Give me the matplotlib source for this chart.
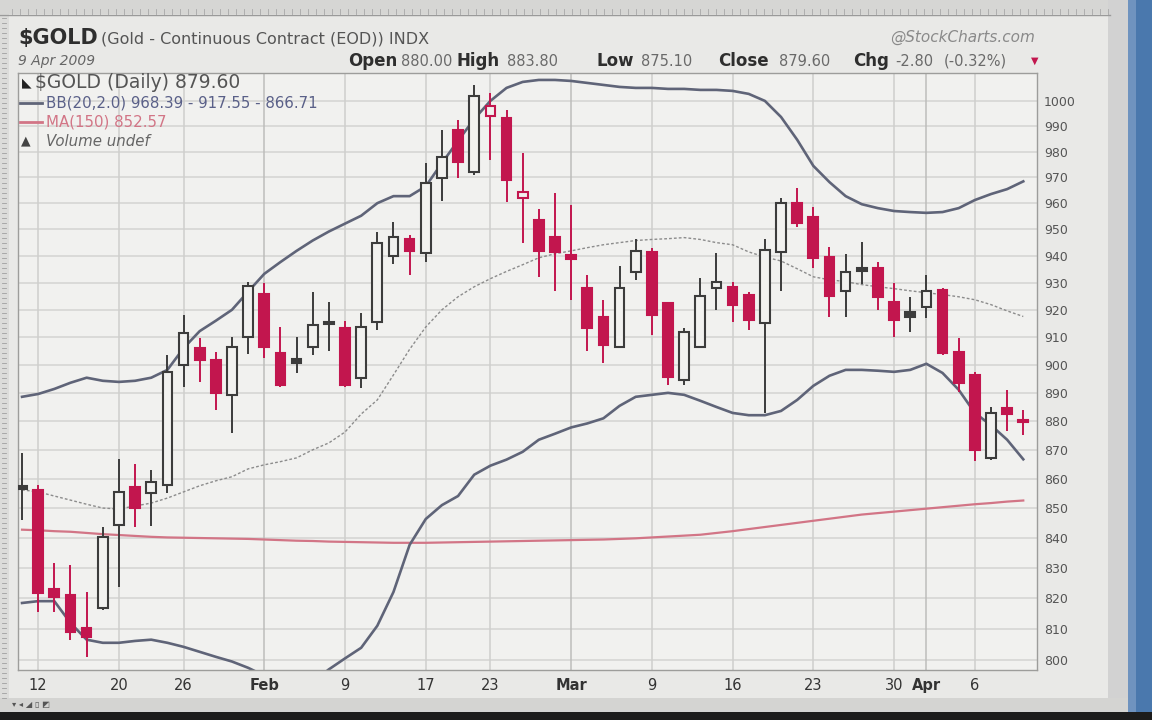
import numpy as np
import pandas as pd
import matplotlib
matplotlib.use('Agg')
import matplotlib.pyplot as plt
from matplotlib.patches import Rectangle
from matplotlib.lines import Line2D
from matplotlib.ticker import FixedLocator, NullLocator, FixedFormatter

plt.rcParams['font.family'] = ['DejaVu Sans']

# trading days on the chart: 9 Jan - 9 Apr 2009 (MLK day and Presidents day closed)
dates = pd.bdate_range('2009-01-09', '2009-04-09')
dates = dates[~dates.isin(pd.to_datetime(['2009-01-19', '2009-02-16']))]

opens = [857.0, 856.3, 823.0, 821.0, 810.3, 816.8, 844.4, 857.3, 855.2, 858.0,
         900.0, 906.0, 901.8, 889.3, 910.0, 926.0, 904.3, 902.0, 906.4, 915.5,
         913.5, 895.4, 915.5, 940.0, 946.5, 941.0, 969.6, 988.5, 972.0, 994.0,
         993.2, 962.0, 953.6, 947.2, 940.5, 928.1, 917.4, 906.4, 933.9, 941.5,
         922.5, 894.6, 906.4, 928.1, 928.5, 925.6, 915.2, 941.5, 960.0, 954.8,
         939.6, 926.8, 935.3, 935.4, 922.7, 919.2, 921.1, 927.4, 904.6, 896.4,
         867.3, 884.5, 880.0]
highs = [869.0, 858.0, 831.7, 831.0, 822.0, 843.5, 866.7, 865.0, 863.0, 903.6,
         918.0, 909.6, 904.5, 910.0, 930.4, 930.0, 913.7, 910.0, 926.5, 923.0,
         916.0, 918.7, 949.0, 953.0, 947.7, 975.5, 988.5, 992.4, 1006.4, 1003.0,
         996.4, 979.6, 957.6, 964.0, 959.3, 933.0, 923.6, 936.4, 946.5, 943.0,
         923.0, 913.3, 931.8, 941.0, 930.3, 926.7, 946.5, 962.0, 965.8, 958.4,
         943.4, 940.8, 945.2, 937.7, 930.0, 924.6, 933.0, 928.0, 909.6, 897.5,
         885.0, 891.0, 883.8]
lows = [846.0, 815.5, 815.5, 806.5, 801.0, 816.0, 823.6, 843.5, 844.0, 855.0,
        892.0, 894.0, 884.0, 876.0, 904.0, 902.6, 892.0, 897.0, 903.6, 905.0,
        892.0, 891.8, 912.6, 937.0, 932.8, 937.8, 961.0, 969.6, 971.0, 976.7,
        960.4, 944.7, 932.0, 926.8, 923.6, 905.0, 900.7, 906.0, 931.0, 910.7,
        892.8, 892.8, 906.0, 920.0, 915.5, 912.6, 882.8, 926.8, 950.8, 935.6,
        917.4, 917.4, 929.6, 920.0, 910.0, 911.8, 917.0, 903.6, 890.4, 866.0,
        866.6, 876.5, 875.1]
closes = [856.5, 821.7, 820.5, 809.0, 807.4, 840.3, 855.5, 850.0, 859.0, 897.5,
          911.4, 901.8, 890.0, 906.4, 928.6, 906.4, 892.8, 900.7, 914.4, 914.8,
          892.8, 913.7, 944.9, 947.0, 942.0, 967.6, 978.0, 975.9, 1002.0, 998.0,
          968.9, 964.4, 942.0, 941.5, 939.0, 913.5, 907.0, 928.1, 942.0, 918.0,
          895.7, 911.8, 925.0, 930.3, 921.8, 916.3, 942.3, 960.0, 952.6, 939.3,
          925.0, 933.9, 934.4, 924.6, 916.3, 917.5, 926.8, 904.3, 893.5, 870.0,
          883.0, 882.4, 879.6]
prior_close = 853.0

bb_upper = [888.6, 889.6, 891.4, 893.6, 895.4, 894.3, 893.9, 894.3, 895.4, 898.2,
            906.0, 912.2, 916.0, 920.0, 926.7, 933.3, 937.7, 941.9, 945.8, 949.2,
            952.2, 955.2, 960.0, 962.7, 962.7, 966.5, 975.5, 984.2, 992.8, 1000.0,
            1005.2, 1007.6, 1008.4, 1008.4, 1008.0, 1007.2, 1006.4, 1005.6, 1005.2, 1005.2,
            1004.8, 1004.8, 1004.4, 1004.4, 1004.0, 1002.8, 1000.0, 993.6, 984.6, 974.4,
            968.1, 962.7, 959.6, 958.1, 957.0, 956.6, 956.3, 956.6, 958.1, 961.2,
            963.5, 965.4, 968.39]
bb_mid = [856.2, 855.5, 854.1, 852.7, 851.3, 850.0, 849.7, 850.7, 851.7, 853.4,
          855.5, 857.6, 859.3, 860.7, 863.4, 864.8, 865.9, 867.2, 870.0, 872.4,
          876.2, 882.5, 887.5, 896.4, 905.6, 913.7, 920.0, 924.8, 928.5, 931.5,
          934.2, 936.7, 939.3, 940.8, 941.9, 943.1, 944.2, 945.0, 945.8, 946.2,
          946.5, 946.9, 946.2, 945.0, 944.2, 941.5, 939.6, 938.1, 935.2, 932.2,
          931.1, 930.4, 929.3, 928.5, 927.8, 927.0, 926.3, 925.6, 924.8, 923.7,
          921.9, 919.6, 917.55]
bb_lower = [818.4, 819.0, 819.0, 811.9, 806.5, 805.5, 805.5, 806.1, 806.5, 805.5,
            804.2, 802.6, 801.0, 799.5, 797.5, 795.0, 793.0, 792.0, 793.0, 797.0,
            800.5, 803.9, 811.0, 822.0, 837.6, 846.3, 851.0, 854.1, 861.4, 864.5,
            866.6, 869.3, 873.5, 875.6, 877.8, 879.2, 881.0, 885.4, 888.6, 889.3,
            890.0, 889.3, 887.2, 885.0, 882.9, 882.1, 882.1, 883.6, 887.5, 892.5,
            896.1, 898.2, 898.2, 897.9, 897.5, 898.2, 900.4, 897.1, 891.1, 882.9,
            878.6, 873.5, 866.71]
ma150 = [842.7, 842.5, 842.2, 842.0, 841.6, 841.2, 840.9, 840.6, 840.3, 840.1,
         840.0, 839.9, 839.8, 839.7, 839.6, 839.4, 839.2, 839.0, 838.9, 838.7,
         838.6, 838.5, 838.4, 838.3, 838.3, 838.3, 838.4, 838.5, 838.6, 838.7,
         838.8, 838.9, 839.0, 839.1, 839.2, 839.3, 839.4, 839.6, 839.8, 840.1,
         840.4, 840.7, 841.0, 841.6, 842.2, 842.9, 843.6, 844.3, 845.0, 845.7,
         846.4, 847.1, 847.8, 848.3, 848.8, 849.3, 849.8, 850.3, 850.8, 851.3,
         851.7, 852.2, 852.57]

tick_dates = ['2009-01-12', '2009-01-20', '2009-01-26', '2009-02-02', '2009-02-09',
              '2009-02-17', '2009-02-23', '2009-03-02', '2009-03-09', '2009-03-16',
              '2009-03-23', '2009-03-30', '2009-04-01', '2009-04-06']
tick_labels = ['12', '20', '26', 'Feb', '9', '17', '23', 'Mar', '9', '16', '23', '30', 'Apr', '6']
month_labels = ['Feb', 'Mar', 'Apr']
price_ticks = list(range(800, 1001, 10))

W, H = 1152, 720
RED = '#c2164e'
BLK = '#3c3c3c'
PLOT_BG = '#f1f1ef'


def px(x, y):
    return x / W, 1 - y / H


def add_box(fig, x0, y0, x1, y1, color, z=0):
    fig.add_artist(Rectangle(px(x0, y1), (x1 - x0) / W, (y1 - y0) / H,
                             transform=fig.transFigure, facecolor=color,
                             edgecolor='none', zorder=z))


fig = plt.figure(figsize=(W / 100, H / 100), dpi=100, facecolor='#e9e9e7')

# screen furniture around the chart
add_box(fig, 0, 0, W, 14, '#d6d6d4')
for xx in range(12, 1110, 8):
    fig.add_artist(Line2D([xx / W] * 2, [1 - 14 / H, 1 - (9 if xx % 40 else 4) / H],
                          transform=fig.transFigure, color='#a8a8a8', lw=0.6))
fig.add_artist(Line2D([0, 1110 / W], [1 - 15 / H] * 2, transform=fig.transFigure,
                      color='#9a9a9a', lw=1))
add_box(fig, 0, 14, 9, 700, '#dcdcda')
for yy in range(18, 700, 5):
    fig.add_artist(Line2D([2 / W, 6 / W], [1 - yy / H] * 2, transform=fig.transFigure,
                          color='#a0a0a0', lw=0.6))
add_box(fig, 1108, 0, 1128, 712, '#d2d2d2')
add_box(fig, 1128, 0, W, 712, '#4a78ad')
add_box(fig, 1128, 0, 1136, 712, '#6f93bf')
add_box(fig, 0, 698, 1128, 712, '#d4d4d2')
add_box(fig, 0, 712, W, H, '#1c1c1c')
fig.text(*px(12, 705), '▾ ◂ ◢ ▯ ◩', fontsize=6, color='#555', va='center')

# header
fig.text(*px(18, 38), '$GOLD', fontsize=15, fontweight='bold', color='#2e2e2e', va='center')
fig.text(*px(101, 39), '(Gold - Continuous Contract (EOD)) INDX', fontsize=11.5,
         color='#555555', va='center')
fig.text(*px(1035, 37), '@StockCharts.com', fontsize=11, color='#8a8a8a', va='center',
         ha='right', style='italic')
fig.text(*px(18, 61), '9 Apr 2009', fontsize=10, color='#666666', va='center', style='italic')
header = [('Open', 348, True), ('880.00', 401, False), ('High', 456, True),
          ('883.80', 507, False), ('Low', 596, True), ('875.10', 641, False),
          ('Close', 718, True), ('879.60', 779, False), ('Chg', 853, True),
          ('-2.80', 895, False), ('(-0.32%)', 944, False)]
for txt, xx, bold in header:
    fig.text(*px(xx, 61), txt, fontsize=12 if bold else 10.5,
             fontweight='bold' if bold else 'normal',
             color='#2e2e2e' if bold else '#6a6a6a', va='center')
fig.text(*px(1031, 61), '▼', fontsize=7, color=RED, va='center')

# price panel
ax = fig.add_axes([18 / W, 1 - 670 / H, (1037 - 18) / W, (670 - 73) / H])
ax.set_facecolor(PLOT_BG)
ax.set_yscale('log')
ax.set_ylim(796.8, 1011.2)
ax.set_xlim(-0.25, 62.85)

x = np.arange(len(dates))
tick_pos = [dates.get_loc(pd.Timestamp(d)) for d in tick_dates]

for p in price_ticks:
    ax.axhline(p, color='#d3d3d1', lw=1.1, zorder=0)
for t, lab in zip(tick_pos, tick_labels):
    ax.axvline(t, color='#bdbdbb' if lab in month_labels else '#cfcfcd', lw=1.1, zorder=0)

ax.plot(x, ma150, color='#d27586', lw=1.6, zorder=2)
ax.plot(x, bb_mid, color='#8c8c8c', lw=1.0, ls=(0, (2, 1.5)), zorder=2)
ax.plot(x, bb_upper, color='#5f6478', lw=1.9, zorder=2)
ax.plot(x, bb_lower, color='#5f6478', lw=1.9, zorder=2)

prev = [prior_close] + closes[:-1]
for i in range(len(x)):
    o, h, l, c = opens[i], highs[i], lows[i], closes[i]
    col = RED if c < prev[i] else BLK
    ax.vlines(x[i], l, h, color=col, lw=1.4, zorder=3)
    lo, hi = min(o, c), max(o, c)
    hgt = max(hi - lo, 0.9)
    face = col if c < o else PLOT_BG
    ax.bar(x[i], hgt, bottom=lo, width=0.6, color=face, edgecolor=col, lw=1.5, zorder=4)

ax.yaxis.set_major_locator(FixedLocator(price_ticks))
ax.yaxis.set_minor_locator(NullLocator())
ax.yaxis.set_major_formatter(FixedFormatter([str(p) for p in price_ticks]))
ax.yaxis.tick_right()
ax.tick_params(axis='y', length=0, pad=5, labelsize=9, labelcolor='#555555')
ax.set_xticks(tick_pos)
ax.set_xticklabels(tick_labels)
for lab in ax.get_xticklabels():
    if lab.get_text() in month_labels:
        lab.set_fontweight('bold')
        lab.set_fontsize(11)
ax.tick_params(axis='x', length=0, pad=6, labelsize=10.5, labelcolor='#333333')
for s in ax.spines.values():
    s.set_color('#9d9d9b')
    s.set_linewidth(1)

# legend block inside the panel
fig.text(*px(22, 83), '◣', fontsize=9, color='#222222', va='center')
fig.text(*px(35, 83), '$GOLD (Daily) %.2f' % closes[-1], fontsize=13.5,
         color='#555555', va='center')
fig.add_artist(Line2D([20 / W, 42 / W], [1 - 103 / H] * 2, transform=fig.transFigure,
                      color='#5f6478', lw=2))
fig.text(*px(46, 103), 'BB(20,2.0) %.2f - %.2f - %.2f' % (bb_upper[-1], bb_mid[-1], bb_lower[-1]),
         fontsize=10.8, color='#5a6088', va='center')
fig.add_artist(Line2D([20 / W, 42 / W], [1 - 122 / H] * 2, transform=fig.transFigure,
                      color='#d27586', lw=2))
fig.text(*px(46, 122), 'MA(150) %.2f' % ma150[-1], fontsize=10.8, color='#d27586', va='center')
fig.text(*px(21, 141), '▲', fontsize=9, color='#444444', va='center')
fig.text(*px(46, 141), 'Volume undef', fontsize=10.8, color='#666666', va='center', style='italic')

fig.savefig('out.png', dpi=100, facecolor=fig.get_facecolor())
